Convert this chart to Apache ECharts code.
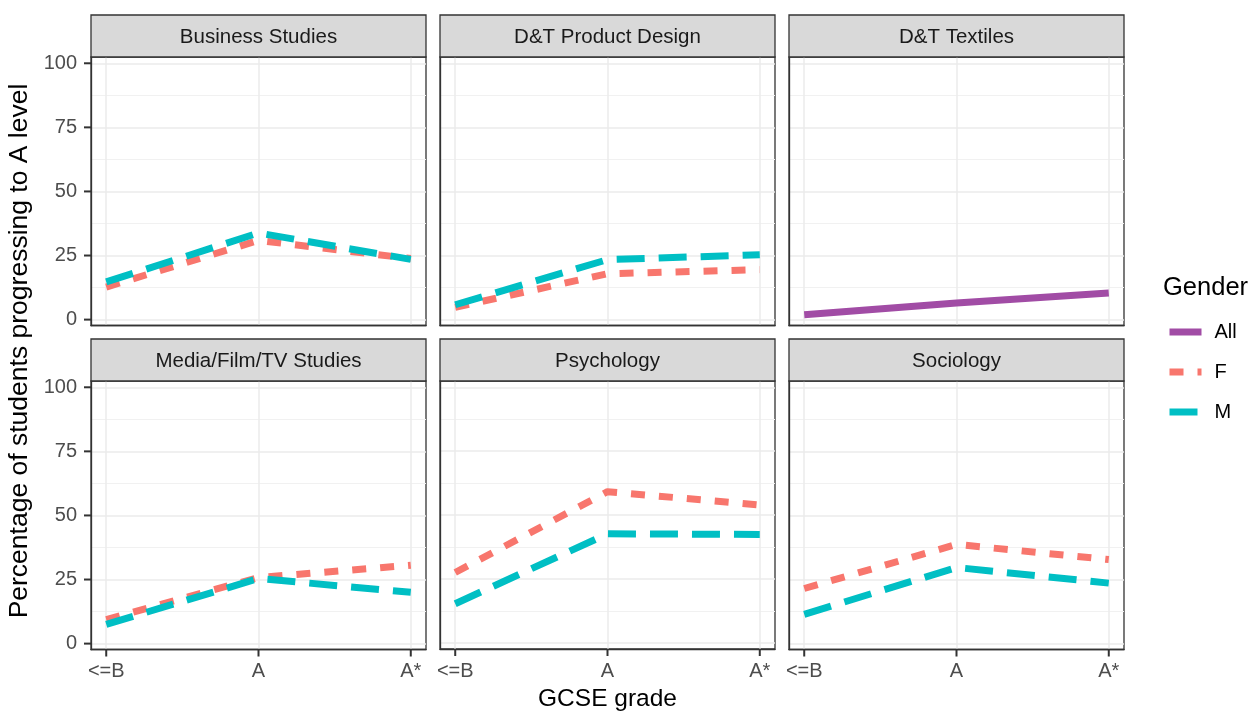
<!DOCTYPE html>
<html><head><meta charset="utf-8">
<script src="https://cdn.jsdelivr.net/npm/echarts@6/dist/echarts.min.js"></script>
<style>html,body{margin:0;padding:0;background:#fff}#c{width:1255px;height:713px}</style>
</head><body><div id="c"></div>
<script>
// ---- data ----
const grades = ['<=B', 'A', 'A*'];
const subjects = ['Business Studies', 'D&T Product Design', 'D&T Textiles',
                  'Media/Film/TV Studies', 'Psychology', 'Sociology'];
const yTicks = [0, 25, 50, 75, 100];
const yMinorTicks = [12.5, 37.5, 62.5, 87.5];
const allValues = [null, null, [1.9, 6.5, 10.4], null, null, null];
const femaleValues = [
  [12.7, 30.9, 23.8],
  [4.8, 17.9, 19.5],
  null,
  [9.4, 25.8, 30.6],
  [27.6, 59.2, 54.0],
  [21.5, 38.7, 32.8]
];
const maleValues = [
  [14.7, 33.8, 23.5],
  [5.8, 23.4, 25.3],
  null,
  [7.5, 25.4, 20.0],
  [15.4, 42.7, 42.5],
  [11.4, 29.7, 23.6]
];
const legendNames = ['All', 'F', 'M'];

// ---- layout / style ----
const FONT = "'Liberation Sans', Arial, Helvetica, sans-serif";
const colLeft = [91, 440, 789];
const panelW = 335;
const rowTop = [57, 381];
const panelH = 268.5;
const stripH = 42;
const COLORS = { All: '#A14CA5', F: '#F8766D', M: '#00BFC4' };
const DASH = { All: 'solid', F: [14, 14], M: [28, 14] };
const LW = 7;
const TICK_FS = 20;
const BORDER = '#333333';
const TICK_COLOR = '#333333';

// tick marks drawn as part of the axis labels (rich text)
const yRich = {
  v: { fontSize: TICK_FS, color: '#4D4D4D', fontFamily: FONT },
  g: { width: 7, height: 2 },
  t: { width: 7, height: 2, backgroundColor: TICK_COLOR }
};
const xRich = {
  t: { width: 2, height: 7, backgroundColor: TICK_COLOR },
  s: { width: 2, height: 5 },
  v: { fontSize: TICK_FS, color: '#4D4D4D', fontFamily: FONT }
};

const grids = [], xAxes = [], yAxes = [], yMinor = [], series = [], graphics = [];

for (let i = 0; i < subjects.length; i++) {
  const r = Math.floor(i / 3), c = i % 3;
  grids.push({
    left: colLeft[c], top: rowTop[r], width: panelW, height: panelH,
    show: true, backgroundColor: '#ffffff', borderColor: BORDER, borderWidth: 1.3,
    containLabel: false
  });
  xAxes.push({
    gridIndex: i, type: 'value', min: -0.1, max: 2.1, position: 'bottom',
    axisLine: { show: true, onZero: false, lineStyle: { color: BORDER, width: 1.3 } },
    axisTick: { show: false, customValues: [0, 1, 2] },
    axisLabel: { show: r === 1, customValues: [0, 1, 2],
                 formatter: v => '{t|}\n{s|}\n{v|' + grades[Math.round(v)] + '}',
                 margin: 0, rich: xRich, color: '#4D4D4D', fontSize: TICK_FS, fontFamily: FONT },
    splitLine: { show: true, lineStyle: { color: '#EBEBEB', width: 1.5 } },
    name: i === 4 ? 'GCSE grade' : '', nameLocation: 'middle', nameGap: 38,
    nameTextStyle: { fontSize: 24.5, color: '#000000', fontFamily: FONT }
  });
  yAxes.push({
    gridIndex: i, type: 'value', min: -2.3, max: 102.45, position: 'left',
    axisLine: { show: true, onZero: false, lineStyle: { color: BORDER, width: 1.3 } },
    axisTick: { show: false, customValues: yTicks },
    axisLabel: { show: c === 0, customValues: yTicks,
                 formatter: v => '{v|' + v + '}{g|}{t|}',
                 margin: 0, rich: yRich, color: '#4D4D4D', fontSize: TICK_FS, fontFamily: FONT },
    splitLine: { show: true, lineStyle: { color: '#EBEBEB', width: 1.5 } }
  });
  yMinor.push({
    gridIndex: i, type: 'value', min: -2.3, max: 102.45, position: 'right',
    axisLine: { show: false, onZero: false },
    axisTick: { show: false, customValues: yMinorTicks },
    axisLabel: { show: false, customValues: yMinorTicks },
    splitLine: { show: true, lineStyle: { color: '#F1F1F1', width: 1 } }
  });

  const groups = [['All', allValues[i]], ['F', femaleValues[i]], ['M', maleValues[i]]];
  groups.forEach(([name, vals]) => {
    if (!vals) return;
    series.push({
      type: 'line', name, xAxisIndex: i, yAxisIndex: i,
      data: vals.map((v, k) => [k, v]),
      symbol: 'none', silent: true, animation: false,
      color: COLORS[name],
      itemStyle: { color: COLORS[name] },
      lineStyle: { color: COLORS[name], width: LW, type: DASH[name], cap: 'butt', join: 'round' }
    });
  });

  // strip
  graphics.push({
    type: 'rect', z: 10,
    shape: { x: colLeft[c], y: rowTop[r] - stripH, width: panelW, height: stripH },
    style: { fill: '#D9D9D9', stroke: BORDER, lineWidth: 1.3 }
  });
  graphics.push({
    type: 'text', z: 11,
    x: colLeft[c] + panelW / 2, y: rowTop[r] - stripH / 2 + 1,
    style: { text: subjects[i], align: 'center', verticalAlign: 'middle',
             fontSize: 20.5, fontFamily: FONT, fill: '#1A1A1A' }
  });
}

graphics.push({
  type: 'text', z: 11, x: 20, y: 351, rotation: Math.PI / 2,
  style: { text: 'Percentage of students progressing to A level', align: 'center', verticalAlign: 'middle',
           fontSize: 26.5, fontFamily: FONT, fill: '#000000' }
});
graphics.push({
  type: 'text', z: 11, x: 1163, y: 287.5,
  style: { text: 'Gender', align: 'left', verticalAlign: 'middle',
           fontSize: 25.5, fontFamily: FONT, fill: '#000000' }
});

const chart = echarts.init(document.getElementById('c'), null, { renderer: 'canvas' });
chart.setOption({
  animation: false,
  backgroundColor: '#ffffff',
  grid: grids,
  xAxis: xAxes,
  yAxis: yAxes.concat(yMinor),
  series: series,
  legend: {
    orient: 'vertical', left: 1166, top: 322, padding: 0,
    itemWidth: 32, itemHeight: 22, itemGap: 20,
    data: legendNames, selectedMode: false,
    itemStyle: { opacity: 0, color: 'rgba(0,0,0,0)', borderWidth: 0 },
    lineStyle: { width: LW, type: 'inherit', cap: 'butt', opacity: 1 },
    textStyle: { fontSize: 20, color: '#000000', fontFamily: FONT, padding: [0, 0, 0, 8] }
  },
  graphic: graphics
});
</script>
</body></html>
